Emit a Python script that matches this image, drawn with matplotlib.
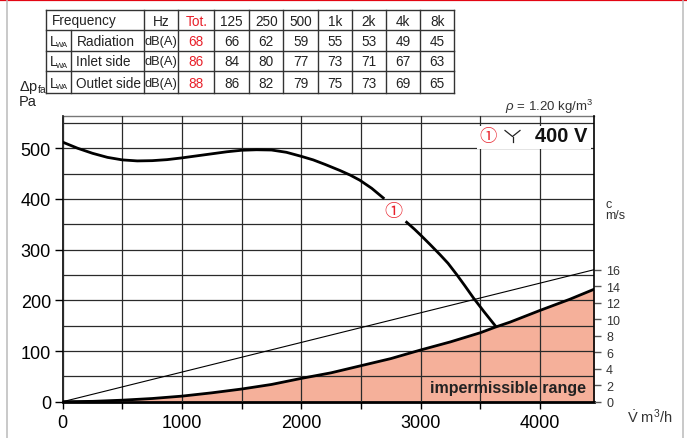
import matplotlib
matplotlib.use('Agg')
import matplotlib.pyplot as plt
import numpy as np
from matplotlib.patches import Rectangle

plt.rcParams['font.family'] = ['Liberation Sans', 'DejaVu Sans']
plt.rcParams['mathtext.fontset'] = 'custom'
plt.rcParams['mathtext.rm'] = 'Liberation Sans'
plt.rcParams['mathtext.it'] = 'Liberation Sans:italic'
plt.rcParams['mathtext.bf'] = 'Liberation Sans:bold'

# ---------------- data ----------------
freq_labels = ['125', '250', '500', '1k', '2k', '4k', '8k']
row_names = ['Radiation', 'Inlet side', 'Outlet side']
tot_values = [68, 86, 88]
band_values = [[66, 62, 59, 55, 53, 49, 45],
               [84, 80, 77, 73, 71, 67, 63],
               [86, 82, 79, 75, 73, 69, 65]]

fan_q = [0, 125, 250, 375, 500, 625, 750, 875, 1000, 1125, 1250, 1375, 1500,
         1625, 1750, 1875, 2000, 2100, 2200, 2325, 2410, 2490, 2590, 2687,
         2883, 2950, 3003, 3080, 3163, 3230, 3302, 3370, 3442, 3530, 3625]
fan_p = [512, 500, 490, 482, 477, 475, 475.5, 477.5, 481, 485, 489, 493, 496,
         497, 496.5, 492, 484, 477, 468, 456, 447, 437, 421, 402,
         354, 340, 328, 310, 290, 273, 251, 229, 205, 178, 150]

limit_q = [0, 250, 500, 750, 1000, 1250, 1500, 1750, 2000, 2250, 2500, 2750,
           3000, 3250, 3500, 3625, 3750, 4000, 4250, 4456]
limit_p = [0, 0.7, 3, 6.3, 11, 17.5, 25, 34, 46, 57, 71, 85,
           102, 118, 136, 147, 157, 180, 202, 222]

vel_q = [0, 4456]
vel_c = [0, 16]

x_ticks = [0, 1000, 2000, 3000, 4000]
y_ticks = [0, 100, 200, 300, 400, 500]
c_ticks = [0, 2, 4, 6, 8, 10, 12, 14, 16]

RED = '#E8202A'
W, H = 687, 439
fig = plt.figure(figsize=(W / 100, H / 100), dpi=100)
L, R, B, T = 62.7, 594.3, 402.7, 117.3
ax = fig.add_axes([L / W, 1 - B / H, (R - L) / W, (B - T) / H])
XMAX, YMAX = 4456, 563
ax.set_xlim(0, XMAX)
ax.set_ylim(0, YMAX)

ax.set_xticks(x_ticks)
ax.set_xticks(np.arange(500, XMAX, 1000), minor=True)
ax.set_yticks(y_ticks)
ax.set_yticks(np.arange(50, YMAX, 100), minor=True)
ax.grid(True, which='both', color='#2a2a2a', lw=0.9)
ax.set_axisbelow(False)
ax.tick_params(axis='y', which='major', length=6, width=1, direction='out',
               labelsize=13, pad=2.5)
ax.tick_params(axis='y', which='minor', length=0)
ax.tick_params(axis='x', which='both', length=5, width=1, direction='out',
               labelsize=13, pad=4)
ax.tick_params(axis='x', which='minor', labelbottom=False)
ax.spines['left'].set_color('k'); ax.spines['left'].set_linewidth(1.2)
ax.spines['bottom'].set_color('k'); ax.spines['bottom'].set_linewidth(2)
ax.spines['top'].set_color('#777'); ax.spines['top'].set_linewidth(1)
ax.spines['right'].set_visible(False)

# impermissible range
ax.fill_between(limit_q, 0, limit_p, color='#F5B09A', lw=0, zorder=1)
ax.plot(limit_q, limit_p, color='k', lw=2, zorder=3, solid_capstyle='butt')

# fan curve (gap at label)
fq = np.array(fan_q); fp = np.array(fan_p)
m1 = fq <= 2690
m2 = fq >= 2880
ax.plot(fq[m1], fp[m1], color='k', lw=2, zorder=3, solid_joinstyle='round')
ax.plot(fq[m2], fp[m2], color='k', lw=2, zorder=3, solid_joinstyle='round')
ax.text(2769, 377, '\u2460', color=RED, fontsize=13, ha='center', va='center',
        family=['Noto Sans CJK JP', 'DejaVu Sans'], zorder=5)

# white box for label
ax.add_patch(Rectangle((3473, 499), 4430 - 3473, 543 - 499, facecolor='white',
                       edgecolor='none', zorder=4))

# right axis: velocity
ax2 = ax.twinx()
ax2.set_ylim(0, YMAX * 16 / 260.5)
ax2.set_yticks(c_ticks)
ax2.tick_params(axis='y', length=5, width=1, color='#555', labelsize=9,
                labelcolor='#333', pad=3.5)
for s in ['top', 'left', 'bottom']:
    ax2.spines[s].set_visible(False)
ax2.spines['right'].set_color('k'); ax2.spines['right'].set_linewidth(1.2)
ax2.plot(vel_q, vel_c, color='k', lw=0.8, zorder=3)
ax2.set_xlim(0, XMAX)

# ---------------- overlay in pixel coords ----------------
ov = fig.add_axes([0, 0, 1, 1])
ov.set_xlim(0, W); ov.set_ylim(H, 0); ov.axis('off')

# frame
ov.plot([0, W], [1, 1], color='#E30613', lw=1.6)
ov.plot([7, 7], [2, H], color='#c0c0c0', lw=1.2)
ov.plot([683, 683], [2, H], color='#c0c0c0', lw=1.2)

# table
TC = '#333333'
col_x = [46, 144, 178.3, 214.3, 249.3, 283.3, 318.3, 351.7, 385.7, 420, 454.3]
row_y = [11, 31, 51.7, 72.3, 94.3]
for yy in row_y:
    ov.plot([col_x[0], col_x[-1]], [yy, yy], color=TC, lw=1.0)
for xx in col_x:
    ov.plot([xx, xx], [row_y[0], row_y[-1]], color=TC, lw=1.0)
ov.plot([71, 71], [row_y[1], row_y[-1]], color=TC, lw=1.0)

tf = dict(family=['Liberation Sans Narrow', 'Liberation Sans'], fontsize=9.8,
          va='center', color='#222')
rc = [(row_y[i] + row_y[i + 1]) / 2 + 0.5 for i in range(4)]
cc = [(col_x[i] + col_x[i + 1]) / 2 for i in range(len(col_x) - 1)]
ov.text(51.5, rc[0], 'Frequency', ha='left', **tf)
ov.text(cc[1], rc[0], 'Hz', ha='center', **tf)
ov.text(cc[2], rc[0], 'Tot.', ha='center', **{**tf, 'color': RED})
for j, f in enumerate(freq_labels):
    ov.text(cc[3 + j], rc[0], f, ha='center', **tf)
for i, name in enumerate(row_names):
    y = rc[i + 1]
    ov.text(50, y, 'L', ha='left', **tf)
    ov.text(56.3, y + 3.5, 'WA', ha='left', **{**tf, 'fontsize': 5.5})
    ov.text(76.5, y, name, ha='left', **tf)
    ov.text(cc[1], y, 'dB(A)', ha='center', **{**tf, 'fontsize': 9.3})
    ov.text(cc[2], y, str(tot_values[i]), ha='center', **{**tf, 'color': RED})
    for j, v in enumerate(band_values[i]):
        ov.text(cc[3 + j], y, str(v), ha='center', **tf)

# axis labels
ov.text(19, 87, r'$\Delta\mathrm{p}_{\mathrm{fa}}$', fontsize=10.5, ha='left',
        va='center', color='#222')
ov.text(19, 102, 'Pa', fontsize=10.5, ha='left', va='center', color='#222')
ov.text(593, 107, r'$\rho$ = 1.20 kg/m$^3$', fontsize=9.5, ha='right',
        va='center', color='#333')
ov.text(605, 205, 'c', fontsize=9, ha='left', va='center', color='#333')
ov.text(605, 216.5, 'm/s', fontsize=9, ha='left', va='center', color='#333')
ov.text(627, 417, r'$\dot{\mathrm{V}}$ m$^3$/h', fontsize=10.5, ha='left',
        va='center', color='#333')
ov.text(586, 388.5, 'impermissible range', fontsize=11.5, fontweight='bold',
        ha='right', va='center', color='#222')

# legend label
ov.text(488, 137, '\u2460', color=RED, fontsize=12.5, ha='center', va='center',
        family=['Noto Sans CJK JP', 'DejaVu Sans'])
ov.plot([505, 512.5, 520], [131.5, 137.5, 131.5], color='#222', lw=0.9)
ov.plot([512.5, 512.5], [137.5, 142.5], color='#222', lw=0.9)
ov.text(587, 137, '400 V', fontsize=14.5, fontweight='bold', ha='right',
        va='center', color='#111')

fig.savefig('out.png', dpi=100)
